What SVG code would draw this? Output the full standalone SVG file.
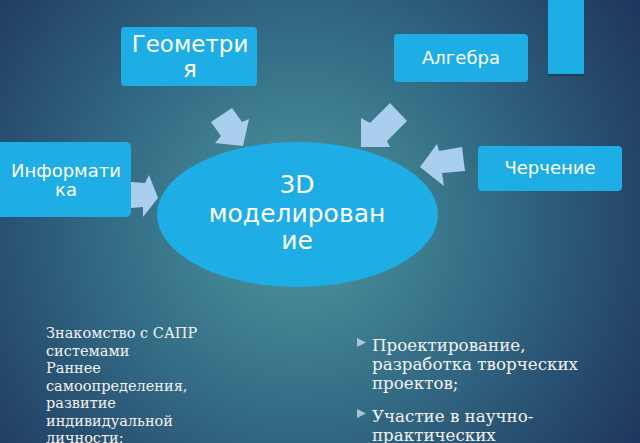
<svg xmlns="http://www.w3.org/2000/svg" width="640" height="443" viewBox="0 0 640 443">
<defs>
<radialGradient id="bg" gradientUnits="userSpaceOnUse" cx="300" cy="225" r="430">
<stop offset="0" stop-color="#4f989e"/>
<stop offset="0.45" stop-color="#336b85"/>
<stop offset="1" stop-color="#1c2f58"/>
</radialGradient>
</defs>
<style>
.box{fill:#1eade4}
.arrow{fill:#aacfee}
.nt{font-family:"DejaVu Sans",sans-serif;fill:#ffffff;text-anchor:middle}
.bt{font-family:"DejaVu Serif",serif;fill:#f2f2f2}
</style>
<rect width="640" height="443" fill="url(#bg)"/>
<g id="bar">
<rect x="548" y="1" width="36" height="75" fill="#16304f" opacity="0.6"/>
<rect class="box" x="548" y="0" width="36" height="74"/>
</g>
<g id="connectors">
<polygon class="arrow" points="211,122 232,108 242,122 249,119 243,146 215,143 221,136"/>
<polygon class="arrow" points="390,103 407,121 387,141 390,147 361,147 361,118 370,123"/>
<polygon class="arrow" points="131,182 145,183 149,175 158,198 143,217 143,207 131,208"/>
<polygon class="arrow" points="462,147 439,151 437,144 420,167 444,186 442,173 465,171"/>
</g>
<g id="geometry">
<rect class="box" x="121" y="27" width="136" height="59" rx="4"/>
<text class="nt" font-size="23" x="190" y="52">Геометри</text>
<text class="nt" font-size="23" x="190" y="77">я</text>
</g>
<g id="algebra">
<rect class="box" x="394" y="34" width="134" height="48" rx="4"/>
<text class="nt" font-size="18" x="461" y="64">Алгебра</text>
</g>
<g id="informatika">
<rect class="box" x="-4" y="142" width="135" height="75" rx="5"/>
<text class="nt" font-size="18" x="66" y="177">Информати</text>
<text class="nt" font-size="18" x="66" y="196">ка</text>
</g>
<g id="cherchenie">
<rect class="box" x="478" y="146" width="144" height="45" rx="4"/>
<text class="nt" font-size="18" x="550" y="174">Черчение</text>
</g>
<g id="modeling">
<ellipse class="box" cx="297.5" cy="214.5" rx="140.5" ry="72.5"/>
<text class="nt" font-size="25" x="297" y="193">3D</text>
<text class="nt" font-size="25" x="297" y="222">моделирован</text>
<text class="nt" font-size="25" x="297" y="249">ие</text>
</g>
<g id="left-text" class="bt" font-size="14.5">
<text x="46" y="338">Знакомство с САПР</text>
<text x="46" y="355.5">системами</text>
<text x="46" y="373">Раннее</text>
<text x="46" y="390.5">самоопределения,</text>
<text x="46" y="408">развитие</text>
<text x="46" y="425.5">индивидуальной</text>
<text x="46" y="443">личности;</text>
</g>
<g id="right-text" class="bt" font-size="16.7">
<polygon points="357,338 366,342.5 357,347" fill="#a9c6d9"/>
<text x="372" y="351">Проектирование,</text>
<text x="372" y="370">разработка творческих</text>
<text x="372" y="389">проектов;</text>
<polygon points="357,409 366,413.5 357,418" fill="#a9c6d9"/>
<text x="372" y="422">Участие в научно-</text>
<text x="372" y="441">практических</text>
</g>
</svg>
